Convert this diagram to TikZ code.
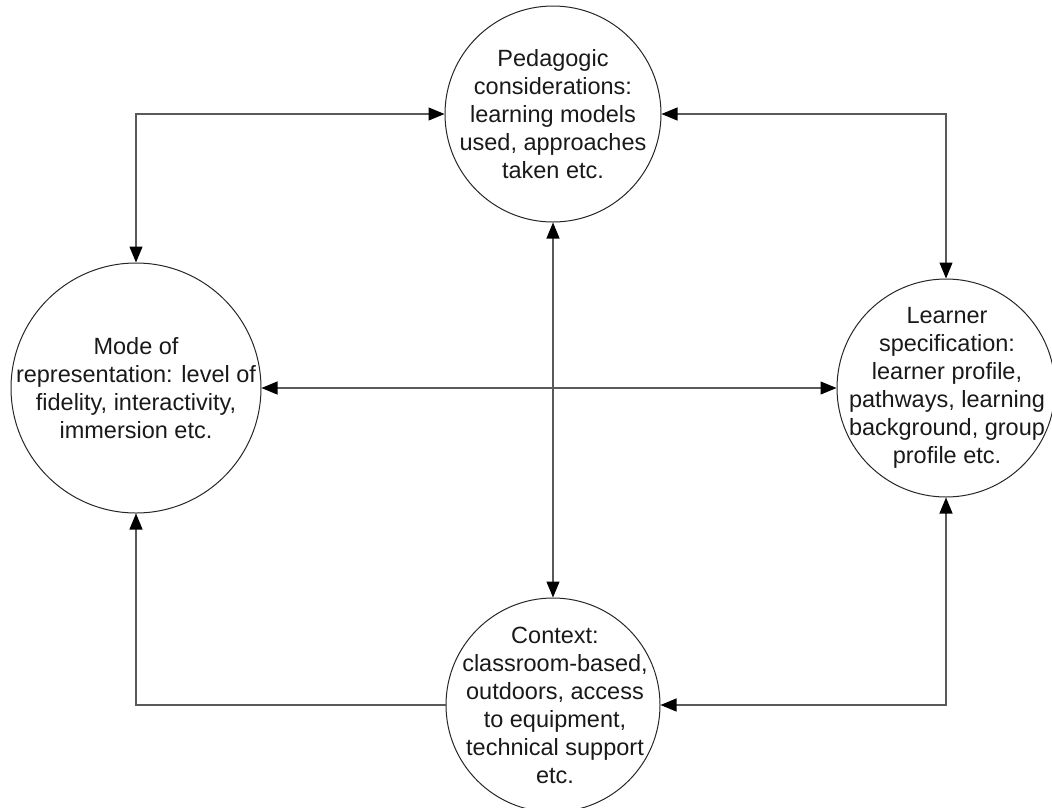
\documentclass[tikz,border=0pt]{standalone}
\usepackage{fontspec}
\setmainfont{Liberation Sans}
\usetikzlibrary{arrows.meta}
\begin{document}
\begin{tikzpicture}[x=1pt,y=-1pt,
  bub/.style={circle, draw=black!85, line width=1pt, inner sep=0pt},
  txt/.style={align=center, font=\fontsize{23.5}{28}\selectfont, text=black!90, inner sep=0pt},
  conn/.style={draw=black!65, line width=1.1pt},
  both/.style={{Triangle[length=16pt,width=13pt,color=black]}-{Triangle[length=16pt,width=13pt,color=black]}},
  one/.style={-{Triangle[length=16pt,width=13pt,color=black]}}]
\useasboundingbox (0,0) rectangle (1052,807);
\node[bub, minimum size=216pt] (ped) at (553,114) {};
\node[txt] (pedt) at (553,114) {Pedagogic\\considerations:\\learning models\\used, approaches\\taken etc.};
\node[bub, minimum size=250pt] (mode) at (136,388) {};
\node[txt] (modet) at (136,388) {Mode of\\representation: level of\\fidelity, interactivity,\\immersion etc.};
\node[bub, minimum size=218pt] (learn) at (946,388) {};
\node[txt] (learnt) at (947,388) {Learner\\specification:\\learner profile,\\pathways, learning\\background, group\\profile etc.};
\node[bub, minimum size=214pt] (ctx) at (553,705) {};
\node[txt] (ctxt) at (555,705) {Context:\\classroom-based,\\outdoors, access\\to equipment,\\technical support\\etc.};
\draw[conn, both] (mode.north) |- (ped.west);
\draw[conn, both] (ped.east) -| (learn.north);
\draw[conn, both] (mode.east) -- (learn.west);
\draw[conn, both] (ped.south) -- (ctx.north);
\draw[conn, one] (ctx.west) -| (mode.south);
\draw[conn, both] (ctx.east) -| (learn.south);
\end{tikzpicture}
\end{document}
